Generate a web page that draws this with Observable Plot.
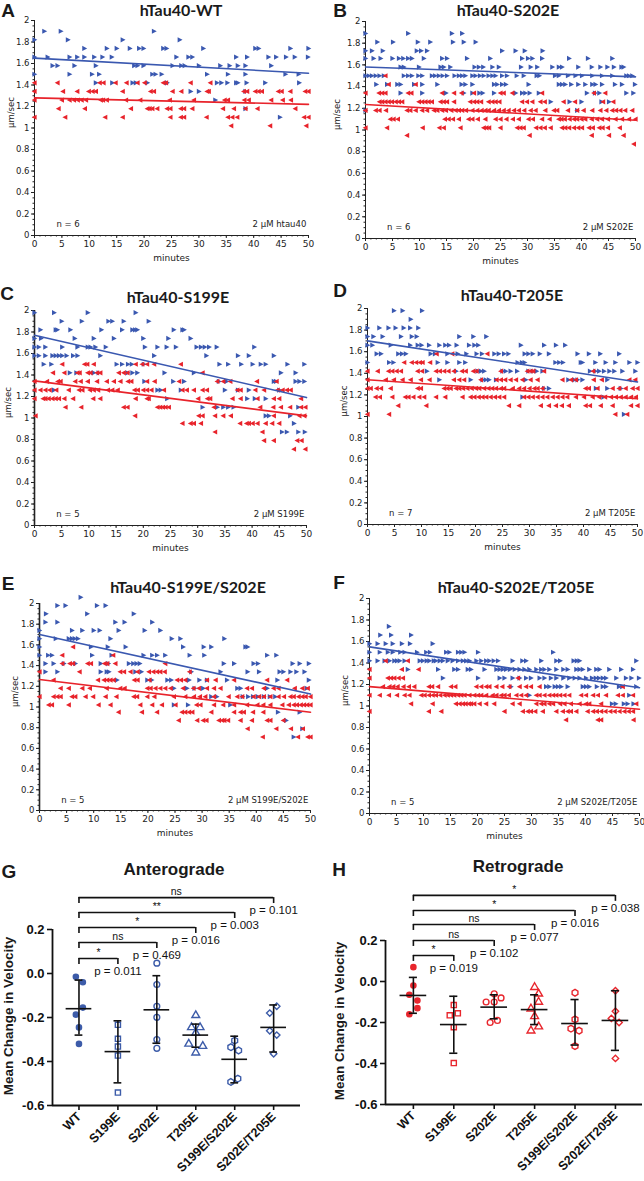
<!DOCTYPE html>
<html><head><meta charset="utf-8">
<script src="https://cdn.jsdelivr.net/npm/d3@7"></script>
<script src="https://cdn.jsdelivr.net/npm/@observablehq/plot@0.6"></script>
<style>
body{margin:0;background:#fff;}
#root{position:relative;width:644px;height:1181px;overflow:hidden;background:#fff;}
.lab{position:absolute;transform:translate(-50%,-50%);white-space:nowrap;z-index:5;color:#1a1a1a;line-height:1;}
.letter{font:bold 19px "Liberation Sans",Arial,sans-serif;}
.ttl{font:bold 16px Lato,"Open Sans",sans-serif;}
.ttl2{font:bold 17px "Liberation Sans",Arial,sans-serif;}
.ylab{font:bold 13.5px "Liberation Sans",Arial,sans-serif;transform:translate(-50%,-50%) rotate(-90deg);}
</style></head><body><div id="root"></div>
<script>
// ---------- tick labels ----------
const yTicks = [0,0.2,0.4,0.6,0.8,1,1.2,1.4,1.6,1.8,2];
const xTicks = [0,5,10,15,20,25,30,35,40,45,50];
const trendT = [0,50];

// ---------- A: hTau40-WT ----------
const aAnt = [[1.9,"1.8 4.8 21.8"],[1.82,"0 6.1 16.1 26.5"],
[1.74,"9.1 13.2 15 17.4 19.1 19.9 23.5 24.1 30.8 40.3 40.9 46.7 50"],
[1.66,"0 2.4 6.4 7.8 9.1 10.9 12.4 14.1 25.9 28.1 28.8 36.8 38.8 42.7 44.1 45.9 47.5 49.9"],
[1.58,"3.3 4.2 7.3 11.2 18.2 18.8 19.9 25.2 26.8 27.4 30 33.9 35.6 37.1 38.5 43.2"],
[1.5,"0 6.4 10.5 11.8 21.5 22.1 23.2 31.5 35.3 38.5 45.8 48.2"],
[1.42,"11.2 14.2 17.9 18.5 20.6 24.2 33.3 34.1 35.2 36.8 37.1 38.7 42.1 48.3"],
[1.34,"28.5 30 38.5"],[1.26,"33"],[1.18,"38.5"],[1.1,"44.8"]];
const aRet = [[1.42,"0 4.2 11.9 12.6 14.8 16.8 18.8 20.1 23.5 24 28.5 32.1"],
[1.34,"0 5.2 7.8 9.9 10.6 11.2 16.1 21.2 21.8 25.2 26.8 31.5 31.8 38.2 38.8 40.3 40.9 41.5 44.5 45.1 46.7 49.4 50"],
[1.26,"0 5 6.4 7.2 7.9 8.6 9.4 12.1 12.5 13.2 16.7 19.3 24.7 29.1 34.7 35.3 38.3 39.1 43.2 45.3 46.8"],
[1.18,"4.4 9.2 17.6 20.6 21 21.5 22.4 24.2 24.8 26.7 27.3 28.8 34.4 36.4 38.5 40.7 47.6"],
[1.1,"0 5.6 12.9 16.1 24.8 26.7 27.3 31.4 35.3 36.1 37 49.2 50"],
[1.02,"35.9 43 49.6"]];
const aTrendAnt = [1.65,1.51], aTrendRet = [1.28,1.22];

// ---------- B: hTau40-S202E ----------
const bAnt = [[1.89,"0 7.9 16 17.9"],[1.81,"2.2 5.1 9.7 12 16.2 18.2 20.4"],
[1.73,"0 1.2 3.2 9.5 10.3 11.4 25.3 27.8 29.5 32.8"],
[1.66,"0 1.5 2.8 5 6.2 7 7.9 8.6 10.8 14.2 15.1 18.8 23.1 29 30.1 30.9 32.7 37.7 41.2 45.7"],
[1.58,"6.5 7.1 9.9 13.9 14.5 15.7 20.2 21 21.8 23.5 24.7 28.8 30.6 31.8 34.6 35.8 36.4 39.4 41.9 43.5 44.8 46 47.4 47.8"],
[1.5,"0 0.6 1.2 1.9 2.6 3.4 7.1 7.9 8.6 9.8 10.5 12.3 12.9 13.6 14.3 15.1 16.5 17.3 17.9 18.5 19.8 20.4 21.2 21.9 22.8 23.5 24.1 25.3 26.2 28 29.3 31.7 32.2 35.1 35.8 37.5 38.9 40.1 42 43.8 45.7 48.3 48.8 49.4"],
[1.42,"2 4 5.9 6.5 9 10.5 13.3 17.8 18.5 19.8 23.8 24.4 25.3 26 30.2 35.8 36.4 37 38.1 39.4 40.7 42 42.6 43.8 46.2 47.5 49.9"],
[1.34,"6.5 10.5 14.9 18.2 19.8 21.1 21.7 23.8 27.8 29 29.6 30.4 32.1 41 42.5 43.3 48.3 49.6"],
[1.26,"34.3 37.8 40 43.7 45.1"],[1.18,"0 39.2"]];
const bRet = [[1.5,"3.7"],[1.42,"4.3 9.3"],
[1.34,"0 2.5 3.1 3.7 7.9 8.5 14.2 16.4 17.8 20.1 25 25.6 27.2 32.7 42.3 44.4"],
[1.26,"2.6 3.1 3.7 4.3 4.9 5.6 6.2 6.8 9.9 10.5 11.1 11.7 12.3 13.9 14.5 15.1 16.4 19.4 20.1 20.7 21.4 22.8 23.5 24.1 24.8 29 29.9 30.9 32.4 33.2 36.7 38.8 44 45.9"],
[1.18,"0 1.9 2.6 3.8 7.7 8.3 9.3 10.5 11.4 12.7 13.3 14.2 14.9 15.9 16.7 17.3 17.9 18.6 19.8 20.7 21.5 22.2 22.8 23.8 24.7 25.6 26.5 27.5 28.4 29.4 30.6 31.5 33.3 34.9 35.5 37.5 39.2 40.4 42 43.5 44.6 45.7 46.4 47.2 48.1 49.4"],
[1.1,"4.6 5.2 6 14.7 15.4 16.2 17.3 19.1 19.8 20.8 22.2 24.1 25 26.1 27.3 28.4 30.2 31 32.7 34.1 35.8 36.3 36.9 37.8 38.6 39.2 40 40.7 41.9 42.9 43.8 44.9 46.3 47.5 48.8 50"],
[1.02,"0 4 10.6 13.7 14.5 17.6 21.9 22.4 22.9 25 28.1 28.7 29.3 31.6 32.4 33.2 34.3 36.4 37 37.7 38.6 39.4 40.1 41.4 42.1 43.3 43.9 44.9 47.1"],
[0.95,"7.7 30.4 41.9 45.1 47.8"],[0.87,"49.7"]];
const bTrendAnt = [1.58,1.49], bTrendRet = [1.235,1.09];

// ---------- C: hTau40-S199E ----------
const cAnt = [[1.98,"0 3.6 9.8 18.6"],[1.9,"5 8.7 13.6 14.3 16.4 21"],
[1.82,"1.1 3.9 4.2 6.6 12.3 16.1 18 18.5 18.9 25.6 27.2 27.5"],
[1.74,"0 1.2 7.4 10.9 14.6 20 24.6 28.7"],
[1.66,"0 0.8 2 5.1 7.9 9.8 10.3 11.2 13.1 20.3 22.6 24.3 26 29.8 30.6 31.3 32.1 33.5 40.4"],
[1.58,"0 0.8 2 3.3 3.9 4.5 5.1 5.9 7.1 7.9 12.1 22 31.6 37.4 39.4 44"],
[1.5,"1.7 3.1 15.1 16.1 17.2 17.9 20.1 34 35.6 38 40.1 41.6 42.5 46.5 49.6"],
[1.42,"6.5 7.7 10.9 11.8 17.1 18 18.9 23.9 29.3 45.3 48"],
[1.34,"20.2 25.5 27.5 33.9 35.3 44 44.4 48 48.7 49.6"],
[1.26,"3.6 22.6 23.2 26.9 35 37.4 39.4 45"],
[1.18,"24.4 39.1 40.5 42.5"],[1.1,"30.9 33.6 34.7 35.6 36.6 48.5"],
[1.02,"42.5 43.1 47"],[0.95,"47.7"],[0.87,"45.5 46.4 48.5 49.7"]];
const cRet = [[1.5,"5.1 9.2 9.7 10.9 18.6 19.8 20.7 22 26.9"],
[1.42,"3.4 5.5 7.9 8.3 9.8 10.3 11.5 12.1 15.5 16.4 17.1 30.9"],
[1.34,"0 2.3 4.3 4.8 7.5 8.5 9.8 11.5 13.3 14.6 15.8 17.2 17.8 20.7 22.1 26.6 33.6 34.7 36 40.9 44.5"],
[1.26,"0 1.1 2 2.8 4 6.3 8.2 8.8 10.2 10.9 11.7 13.5 14.3 15.3 18.4 19 20 20.7 21.5 23.8 27.2 28 29.3 30.9 31.7 37.3 37.9 40.6 42.2 44.7 45.6 46.4 47.1"],
[1.18,"0 1.6 2 2.6 3.3 3.9 4.5 5.5 7.1 10.8 12.1 18.6 20.7 21 30.1 31.8 32.3 36.4 37.9 41 44 45 49"],
[1.1,"5.7 8.6 16.4 17.1 22.6 23.1 23.6 24.1 24.7 33 41.5 43.9 45.3 47 49 49.8"],
[1.02,"0.2 18.5 30.2 30.9 33.2 34.7 36.1 44 48.7 49.6"],
[0.95,"27.2 28.7 29.3 30.6 37.8 39 39.4 40.1 41 42.5 43.7 45"],
[0.87,"33.2 41.9"],[0.79,"42.2 44 48.3 49.1"],[0.71,"47.7 49.8"]];
const cTrendAnt = [1.77,1.19], cTrendRet = [1.345,1.02];

// ---------- D: hTau40-T205E ----------
const dAnt = [[1.98,"4.9 6.5 10.1"],[1.9,"8"],[1.82,"0 2.2 3.9 5.2 6.7 7.9 9.4"],
[1.74,"0 1.1 2.8 6.2 8.2 9.1 17 19.6 22"],
[1.66,"0 0.9 4.3 7.9 9.3 10 11.4 13.3 14.4 15.1 16.5 18.8 19.8 20.5 28.4 32.7 34.9 36.6"],
[1.58,"1.7 2.5 5.7 6.4 7.1 11.7 12.5 14.8 16.7 18.3 20.2 21.2 23.5 24.3 25.3 26.1 29.1 29.8 30.6 31.9 33.6 38.9 41 43.1 46.6"],
[1.5,"0 4 4.8 13 14.8 17 18.1 27.8 28.6 29.1 34.8 35.5 36.2 39.5 39.8 42.2 44.1 45.9 48.5 50"],
[1.42,"11 16.4 20.4 21 21.6 25 25.6 26.5 27.7 29.8 30.6 31.3 32.4 41.2 42.2 42.9 43.8 44.8 45.7 47.2 49.6"],
[1.34,"13.3 19.1 21.3 21.9 22.5 23.8 29.3 37.2 38.3 38.9 39.8 44.4"],
[1.26,"32.7 33.6 42.3 44.4 46.9"],[1.18,"28.7 43.7"],[1.02,"47.5"]];
const dRet = [[1.58,"12.8 15.7 22.2"],[1.5,"6.8 8.2 9 9.7 10.2 11.6"],
[1.42,"0 1.9 3.9 4.6 5.4 6.2 9.3 10.1 12.7 13.4 14.2 15 16 17.5 18.2 19.6 20.2 24.7 29.6 30.2 30.7 32.7 41.8"],
[1.34,"0 3.4 4.9 6.5 8 9.9 11.5 16 17 17.9 21 23.9 24.7 25.5 26.5 27.5 28.7 30.2 31.5 36.1 37.7 38.6 41.9 43.4 48.5 49.6"],
[1.26,"0 0.6 1.7 2.5 4.3 9.3 9.9 14.2 14.8 15.4 16.4 17 17.7 18.5 19.3 20.1 20.7 21.6 22.4 23.1 23.8 24.7 25.3 26.9 28.1 29 30 30.9 31.5 32.4 40.4 41 42.6 45.4 46.6 47.8 49.1 50"],
[1.18,"1.5 2.3 4.6 7 7.6 8.5 9.6 10.5 12.7 14.4 17.6 19.1 19.8 20.6 21.3 22 22.8 23.6 24.4 25.3 29 29.8 30.6 31.5 32.4 33.3 34.3 35.2 36.1 37 38.6 40.1 41.7 42.9 44 45.1 46 46.9 47.8 48.8 49.7"],
[1.1,"5.7 10.9 26.2 28.1 32.1 33.6 34.9 36 37.3 40.4 41.2 43.2 45.4 48.8 50"],
[1.02,"0 4 45.9 48.1"]];
const dTrendAnt = [1.70,1.32], dTrendRet = [1.34,1.165];

// ---------- E: hTau40-S199E/S202E ----------
const eAnt = [[2.06,"7.6"],[1.98,"3.3 4.8 10.6 12.2"],[1.9,"1.2 8.8 17.4"],
[1.82,"1.1 3.3 14 15.7 20.8"],[1.74,"0 6 7.9 10 11.1 14.6 19.4 22.3"],
[1.66,"0 3 5.4 6 6.5 7.1 13.1 24.4 26 34.1"],
[1.58,"0 9.5 12.6 15.9 26.5 30.3 31.7 38 38.4"],
[1.5,"0 1.6 2.3 9.7 13.3 19.2 20.8 21.7 23.2 27.7 30.4 42 43.7"],
[1.42,"1.1 2.6 4.5 6.6 11.3 12.7 16.5 17.3 17.9 18.5 34 35.9 39.5 40.3 46.7 48 49.7"],
[1.34,"1.1 3.3 11.3 12.4 12.8 17.7 18.8 28 33.4 38.4 40.5 44.3 45 46.3 47.4 48.9"],
[1.26,"14.3 19.9 20.7 23.6 24.3 27.6 29.5 30.9 34.6 43.9 49.7"],
[1.18,"24.8 27.2 28.6 30.2 36.5 37.1 42 49.3"],
[1.1,"31.7 32.7 37.5 38.5 39.4 40.3 41.4 42.5 43.5"],
[1.02,"24.8 27.4 35.2"],[0.95,"44 48"],[0.87,"45.5"],[0.79,"48.5"],[0.71,"46.9"]];
const eRet = [[1.58,"6.2"],[1.5,"4.2 13.6"],
[1.42,"4.2 5.6 6.2 8.9 9.5 12 12.5 14 23.2"],
[1.34,"0 7.4 14.9 15.6 16.8 18.1 20.2 21 21.7 22.3 23.1 27.7"],
[1.26,"2.6 10.8 11.9 12.5 13.1 13.7 17.5 18.1 20.3 25.4 26.1 26.9 30.9 32.5 35.9 42 45.7"],
[1.18,"3.9 5.4 7.9 9.3 12.4 14.9 15.7 19.9 20.5 21.4 22.3 23.2 24.2 26.5 28.4 29.4 30.9 32.2 33.4 38.3 39.2 41.4 43.2 44.1 47.1 48.5 49.5"],
[1.1,"0 2.6 3.3 3.9 6 6.6 8.5 9.9 12.2 14.2 17.4 18 19.9 21.2 24.8 26.9 28.5 29.6 30.6 32.2 34.9 36.5 37.4 39.5 40.5 41.4 42.6 44.1 45.1 46.3 46.9 47.8 48.5 49.1 50"],
[1.02,"1.7 2.3 5.4 10.9 13.1 18.6 20.8 22.6 25.1 29 29.7 32.2 33.9 35.9 38.3 40.2 41.3 42.6 44.8 46 46.9 47.5 48.2 48.8 49.4 50"],
[0.95,"14.6 18.9 21.7 26.3 26.9 27.6 28.2 31.7 35.9 37.1 37.7 39.4 41.3"],
[0.87,"25.7 29.1 30.2 30.8 33.1 33.7 34.1 34.8 37.1 39.2 42 42.6 45"],
[0.79,"38.4 43.7 46.4 48.6"],[0.71,"41.2 47.7 49.5 50"]];
const eTrendAnt = [1.70,1.125], eTrendRet = [1.265,0.95];

// ---------- F: hTau40-S202E/T205E ----------
const fAnt = [[1.74,"3.6"],[1.66,"2 4 7.7"],[1.58,"0 1.5 3 4.3 6 7.5 11.7"],
[1.5,"0 1.9 3.4 4.3 5.7 6.5 8.8 10.5 11.2 14.2 14.8 16.4 17 17.6 20.1 34"],
[1.42,"0 1.5 2.8 3.7 4.6 5.1 5.6 6.5 9.3 9.9 10.6 11.1 11.9 12.3 13 13.6 14.5 15.4 16.4 17.3 17.9 18.5 19.8 20.7 21.6 22.2 23 23.8 26.5 28.3 29 31.8 34.6 35.3 37.8 38.4 38.9 49.4"],
[1.34,"7.1 12.7 15.7 16.4 18.2 18.8 21.3 23.5 24.1 24.7 25.3 26 26.9 27.8 28.7 29.6 30.9 31.8 32.4 33.3 34.6 35.9 36.7 38.3 38.9 39.5 40.7 42 42.6 44.4 46.6 48.8"],
[1.26,"13.6 20.1 24.1 25 26.5 27.8 29 29.9 31.5 32.4 33.6 34.6 35.9 37 38 38.9 40.1 41.2 41.9 42.5 43.2 43.8 45.7 47.5 48.5 49.9"],
[1.18,"26.2 32.7 33.3 34.3 34.9 35.5 36.7 39.5 40.1 40.7 42.1 43.2 43.8 46.2 46.8 49.4"],
[1.1,"29.6 48.1"],[1.02,"44.9 45.6 47.1 47.8 48.9"]];
const fRet = [[1.42,"3 7.1"],[1.34,"0 6 9.1"],[1.26,"0 3.4 4 4.6 5.4 6.2 27.5"],
[1.18,"2.5 3.7 4.4 5.2 6.3 7.3 8.3 11 11.6 12.7 15.1 15.9 19.8 20.7 21.6 22.2 23.5 24.6 25.9 27.8 29 29.9 31.5 46.9"],
[1.1,"0 1.9 3.6 5.1 6.5 7.4 9.6 10.2 11 11.7 12.3 13.1 13.9 14.5 15.1 15.7 16.4 17 17.6 18.5 19.4 20.1 20.7 21.6 22.8 23.5 24.4 25 25.8 27.2 28.1 29 30.9 31.5 32.4 33.3 34 34.6 35.3 36.1 37 39.2 40.1 41.4 42.3 43.8 46 46.9 48.8"],
[1.02,"7.7 11.7 16 16.7 17.3 17.8 18.4 18.8 19.4 20.4 21.6 23.1 26.5 27.8 30.9 31.8 32.4 33.3 34 35.3 36.1 37.3 38.9 40.1 40.7 42.9 49.4"],
[0.95,"0 11 13.3 25 28.4 29.3 29.9 30.7 32.1 34.6 35.8 36.7 37.3 38.3 40.4 41.4 42.1 42.9 43.7 44.6 45.4 46.3 47.2 48 48.8"],
[0.87,"36.4 42.3 42.9 48.9"]];
const fTrendAnt = [1.55,1.17], fTrendRet = [1.18,0.97];

// ---------- G / H: mean change in velocity ----------
const cats = ["WT","S199E","S202E","T205E","S199E/S202E","S202E/T205E"];
const vTicks = [-0.6,-0.4,-0.2,0,0.2];
// [value, horizontal jitter in category units]
const gWT = [[-0.015,-0.08],[-0.04,0.1],[-0.155,0.1],[-0.187,-0.08],[-0.245,0],[-0.32,0]];
const gS199E = [[-0.233,0],[-0.297,0],[-0.332,0],[-0.373,0],[-0.541,0]];
const gS202E = [[0.047,0],[-0.05,0],[-0.149,0],[-0.199,0],[-0.30,0],[-0.34,0]];
const gT205E = [[-0.19,0],[-0.245,-0.11],[-0.245,0.11],[-0.27,0],[-0.32,-0.18],[-0.33,0.18],[-0.36,0]];
const gS199S202 = [[-0.305,0],[-0.335,-0.1],[-0.35,0.1],[-0.478,0.08],[-0.493,-0.1]];
const gS202T205 = [[-0.149,0.08],[-0.18,-0.1],[-0.26,-0.1],[-0.28,0.08],[-0.365,0]];
const gMean = [-0.16,-0.355,-0.165,-0.28,-0.39,-0.245];
const gUpper = [-0.03,-0.215,-0.01,-0.23,-0.285,-0.143];
const gLower = [-0.28,-0.497,-0.317,-0.335,-0.497,-0.357];
const gBrTarget = [1,2,3,4,5];
const gBrHeight = [0.068,0.141,0.209,0.277,0.345];
const gBrSig = ["*","ns","*","**","ns"];
const gBrP = ["0.011","0.469","0.016","0.003","0.101"];

const hWT = [[0.07,0],[-0.02,0],[-0.065,-0.1],[-0.093,0.1],[-0.13,0.1],[-0.16,-0.1]];
const hS199E = [[-0.115,0],[-0.155,0.1],[-0.165,-0.1],[-0.223,0],[-0.398,0]];
const hS202E = [[-0.06,0],[-0.08,0.17],[-0.1,-0.2],[-0.1,0],[-0.19,0.08],[-0.2,-0.1]];
const hT205E = [[-0.028,0],[-0.06,0.1],[-0.1,0.1],[-0.133,-0.09],[-0.17,0],[-0.22,0.1],[-0.24,-0.09]];
const hS199S202 = [[-0.055,0],[-0.185,0],[-0.23,-0.1],[-0.24,0.1],[-0.315,0]];
const hS202T205 = [[-0.045,0],[-0.145,0],[-0.18,-0.1],[-0.2,0.09],[-0.375,0]];
const hMean = [-0.068,-0.21,-0.125,-0.137,-0.205,-0.19];
const hUpper = [0.02,-0.072,-0.065,-0.065,-0.088,-0.045];
const hLower = [-0.155,-0.35,-0.182,-0.21,-0.31,-0.336];
const hBrTarget = [1,2,3,4,5];
const hBrHeight = [0.127,0.2,0.278,0.346,0.42];
const hBrSig = ["*","ns","ns","*","*"];
const hBrP = ["0.019","0.102","0.077","0.016","0.038"];

// ---------- drawing ----------
const BLUE = "#3a58b0", RED = "#e8232b";
const GBLUE = "#3d5ca9", GRED = "#e8262d";
const root = document.getElementById("root");
const triR = {draw(c){ c.moveTo(-2.1,-2.6); c.lineTo(2.8,0); c.lineTo(-2.1,2.6); c.closePath(); }};
const triL = {draw(c){ c.moveTo(2.1,-2.6); c.lineTo(-2.8,0); c.lineTo(2.1,2.6); c.closePath(); }};

function expand(rows){
  const out = [];
  for (const [v, s] of rows) for (const t of s.trim().split(/\s+/)) out.push({t: +t, v});
  return out;
}
function place(el, left, top){
  el.style.position = "absolute"; el.style.left = left + "px"; el.style.top = top + "px";
  root.appendChild(el);
}
function label(text, cls, x, y){
  const d = document.createElement("div");
  d.className = "lab " + cls; d.textContent = text;
  d.style.left = x + "px"; d.style.top = y + "px";
  root.appendChild(d);
}

function scatter(o){
  const ant = expand(o.ant), ret = expand(o.ret);
  const p = Plot.plot({
    width: 322, height: o.height,
    marginLeft: o.mL, marginRight: o.mR, marginTop: 20, marginBottom: 35,
    x: {domain: [0, 50]}, y: {domain: [0, 2]},
    style: {fontFamily: '"DejaVu Sans", sans-serif', fontSize: "8.5px", background: "transparent", color: "#222", overflow: "visible"},
    marks: [
      Plot.axisY({ticks: yTicks, tickFormat: d => String(+d.toFixed(1)), tickSize: 3, tickPadding: 2, label: null}),
      Plot.axisY({ticks: d3.range(0, 2.001, 0.05), tickFormat: () => "", tickSize: 1.5, label: null}),
      Plot.axisX({ticks: xTicks, tickSize: 3, tickPadding: 2, label: null, fontSize: 9}),
      Plot.axisX({ticks: d3.range(0, 51, 1), tickFormat: () => "", tickSize: 1.5, label: null}),
      Plot.ruleX([0], {y1: 0, y2: 2, stroke: "#222", strokeWidth: o.axisW || 1}),
      Plot.ruleY([0], {x1: 0, x2: 50, stroke: "#222"}),
      Plot.dot(ant, {x: "t", y: "v", symbol: triR, fill: BLUE, stroke: "none", r: 3}),
      Plot.dot(ret, {x: "t", y: "v", symbol: triL, fill: RED, stroke: "none", r: 3}),
      Plot.line(o.trAnt.map((v, i) => ({t: trendT[i], v})), {x: "t", y: "v", stroke: BLUE, strokeWidth: 1.6}),
      Plot.line(o.trRet.map((v, i) => ({t: trendT[i], v})), {x: "t", y: "v", stroke: RED, strokeWidth: 1.6}),
      Plot.text([o.n], {x: 4, y: 0.1, text: d => d, textAnchor: "start", fontSize: 8.5}),
      Plot.text([o.conc], {x: 49.6, y: 0.1, text: d => d, textAnchor: "end", fontSize: 8.5}),
      Plot.text(["minutes"], {frameAnchor: "bottom", dy: 25, text: d => d, fontSize: 9}),
      Plot.text(["µm/sec"], {frameAnchor: "left", rotate: -90, dx: o.ylDx, text: d => d, fontSize: 8.5})
    ]
  });
  place(p, o.left, o.top);
}

scatter({left: 0, top: 0, height: 270, mL: 34, mR: 14, ant: aAnt, ret: aRet, trAnt: aTrendAnt, trRet: aTrendRet, n: "n = 6", conc: "2 µM htau40", ylDx: -23});
scatter({left: 322, top: 1, height: 272, mL: 43, mR: 9, ant: bAnt, ret: bRet, trAnt: bTrendAnt, trRet: bTrendRet, n: "n = 6", conc: "2 µM S202E", ylDx: -28});
scatter({left: 0, top: 290, height: 270, mL: 34, mR: 16, ant: cAnt, ret: cRet, trAnt: cTrendAnt, trRet: cTrendRet, n: "n = 5", conc: "2 µM S199E", ylDx: -26, axisW: 1.6});
scatter({left: 322, top: 288, height: 271, mL: 45, mR: 7, ant: dAnt, ret: dRet, trAnt: dTrendAnt, trRet: dTrendRet, n: "n = 7", conc: "2 µM T205E", ylDx: -23});
scatter({left: 0, top: 583, height: 262, mL: 39, mR: 12, ant: eAnt, ret: eRet, trAnt: eTrendAnt, trRet: eTrendRet, n: "n = 5", conc: "2 µM S199E/S202E", ylDx: -24, axisW: 1.6});
scatter({left: 322, top: 578, height: 270, mL: 47, mR: 5, ant: fAnt, ret: fRet, trAnt: fTrendAnt, trRet: fTrendRet, n: "n = 5", conc: "2 µM S202E/T205E", ylDx: -24});

const syms = ["circle","square","circle","triangle","hexagon","diamond2"];
function dotPlot(o){
  const xd = o.xdom;
  const marks = [
    Plot.axisY({ticks: vTicks, tickFormat: d => d.toFixed(1), tickSize: 5, tickPadding: 3, strokeWidth: 1.6, fontSize: 13, fontWeight: "bold", label: null}),
    Plot.axisX({ticks: [0,1,2,3,4,5], tickFormat: i => cats[i], tickRotate: -45, tickSize: 5, tickPadding: 4, strokeWidth: 1.6, fontSize: 12.5, fontWeight: "bold", label: null}),
    Plot.ruleX([xd[0]], {y1: -0.6, y2: 0.2, strokeWidth: 1.8}),
    Plot.ruleY([-0.6], {x1: xd[0], x2: xd[1], strokeWidth: 1.8})
  ];
  o.groups.forEach((g, i) => {
    marks.push(Plot.dot(g, {x: d => i + d[1], y: d => d[0], symbol: syms[i], r: i === 0 ? 2.6 : 2.9,
      stroke: o.color, fill: i === 0 ? o.color : "white", strokeWidth: 1.4}));
  });
  marks.push(
    Plot.ruleY(o.mean, {y: d => d, x1: (d, i) => i - 0.33, x2: (d, i) => i + 0.33, strokeWidth: 1.6}),
    Plot.ruleX(o.mean, {x: (d, i) => i, y1: (d, i) => o.lower[i], y2: (d, i) => o.upper[i], strokeWidth: 1.6}),
    Plot.ruleY(o.upper, {y: d => d, x1: (d, i) => i - 0.1, x2: (d, i) => i + 0.1, strokeWidth: 1.6}),
    Plot.ruleY(o.lower, {y: d => d, x1: (d, i) => i - 0.1, x2: (d, i) => i + 0.1, strokeWidth: 1.6}),
    Plot.ruleY(o.brH, {y: d => d, x1: 0, x2: (d, i) => o.brT[i], strokeWidth: 1.6}),
    Plot.ruleX(o.brH, {x: 0, y1: d => d, y2: d => d - o.drop, strokeWidth: 1.6}),
    Plot.ruleX(o.brH, {x: (d, i) => o.brT[i], y1: d => d, y2: d => d - o.drop, strokeWidth: 1.6}),
    Plot.text(o.brSig, {x: (d, i) => o.brT[i] / 2, y: (d, i) => o.brH[i], text: d => d, dy: -6, fontSize: 10.5, fontWeight: "normal"}),
    Plot.text(o.brP, {x: (d, i) => o.brT[i], y: (d, i) => o.brH[i], text: d => "p = " + d, dy: 13, fontSize: 11.5, fontWeight: "normal"})
  );
  const p = Plot.plot({
    width: 322, height: 331, marginLeft: o.mL, marginRight: o.mR, marginTop: o.mT, marginBottom: o.mB,
    x: {domain: xd}, y: {domain: [-0.6, 0.2]},
    style: {fontFamily: '"Liberation Sans", Arial, sans-serif', background: "transparent", color: "#111", overflow: "visible"},
    marks
  });
  place(p, o.left, 850);
}

dotPlot({left: 0, mL: 52, mR: 22, mT: 79, mB: 76, xdom: [-0.68, 5.69], color: GBLUE,
  groups: [gWT, gS199E, gS202E, gT205E, gS199S202, gS202T205], mean: gMean, upper: gUpper, lower: gLower,
  brT: gBrTarget, brH: gBrHeight, brSig: gBrSig, brP: gBrP, drop: 0.027});
dotPlot({left: 322, mL: 63, mR: 2, mT: 90, mB: 77, xdom: [-0.69, 5.67], color: GRED,
  groups: [hWT, hS199E, hS202E, hT205E, hS199S202, hS202T205], mean: hMean, upper: hUpper, lower: hLower,
  brT: hBrTarget, brH: hBrHeight, brSig: hBrSig, brP: hBrP, drop: 0.029});

// titles and panel letters
label("A", "letter", 8, 11); label("B", "letter", 340, 11);
label("C", "letter", 7, 294); label("D", "letter", 340, 291);
label("E", "letter", 8, 584); label("F", "letter", 339, 583);
label("G", "letter", 9, 872); label("H", "letter", 339, 870);
label("hTau40-WT", "ttl", 181, 9); label("hTau40-S202E", "ttl", 508, 9);
label("hTau40-S199E", "ttl", 178, 296); label("hTau40-T205E", "ttl", 512, 294);
label("hTau40-S199E/S202E", "ttl", 188, 586); label("hTau40-S202E/T205E", "ttl", 516, 586);
label("Anterograde", "ttl2", 174, 870); label("Retrograde", "ttl2", 518, 867);
label("Mean Change in Velocity", "ylab", 8, 1016); label("Mean Change in Velocity", "ylab", 339, 1021);
</script></body></html>
